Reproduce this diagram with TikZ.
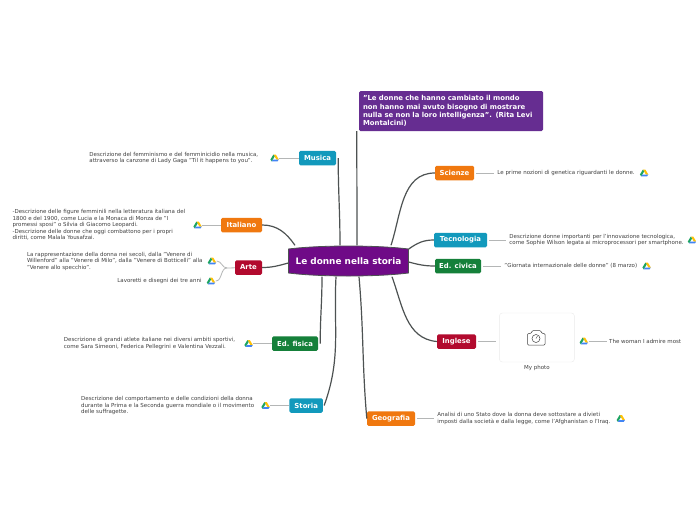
\documentclass[tikz,border=0pt]{standalone}
\usepackage{fontspec}
\setmainfont{DejaVu Sans}
\usetikzlibrary{positioning}
\definecolor{rootpurple}{HTML}{6F0A87}
\definecolor{quotepurple}{HTML}{662D91}
\definecolor{mapteal}{HTML}{1299BC}
\definecolor{maporange}{HTML}{F0780F}
\definecolor{mapgreen}{HTML}{15803A}
\definecolor{mapred}{HTML}{B20A2E}
\definecolor{trunk}{HTML}{4D5252}
\definecolor{twig}{HTML}{B4B6B6}
\definecolor{leaftext}{HTML}{404040}
\definecolor{driveyellow}{HTML}{FFC107}
\definecolor{drivegreen}{HTML}{1DA462}
\definecolor{driveblue}{HTML}{4285F4}

\begin{document}
\begin{tikzpicture}[x=1pt, y=-1pt,
  box/.style={rounded corners=1.5pt, inner sep=0pt, minimum height=14.5pt, text=white, fill=#1, font=\fontsize{6.9}{8}\selectfont\bfseries},
  leaf/.style={align=left, inner sep=0pt, text=leaftext, font=\fontsize{5.5}{6.5}\selectfont},
  arr/.style={trunk, line width=1.2pt},
  thin arr/.style={twig, line width=.8pt},
  driveicon/.style={minimum size=9pt, inner sep=0pt, path picture={
    \fill[driveyellow] (-1.2,-3.5) -- (1.2,-3.5) -- (4.2,1.5) -- (1.8,1.5) -- cycle;
    \fill[drivegreen] (-1.2,-3.5) -- (0,-1.4) -- (-2.9,3.4) -- (-4.2,1.5) -- cycle;
    \fill[driveblue] (-1.8,1.5) -- (4.2,1.5) -- (2.9,3.4) -- (-2.9,3.4) -- cycle;}}]
\useasboundingbox (0,0) rectangle (696,520);
\fill[white] (0,0) rectangle (696,520);
% central topic
\filldraw[fill=rootpurple, draw=trunk, line width=.8pt] (288.5,249) .. controls (320,245) and (377,245) .. (408.5,249) -- (408.5,273) .. controls (377,277) and (320,277) .. (288.5,273) -- cycle;
\node[inner sep=0pt, minimum width=120pt, minimum height=31pt, text=white, font=\fontsize{8.9}{9}\selectfont\bfseries] (root) at (348.5,261) {Le donne nella storia};
% main branches
\node[box=mapteal, minimum width=37pt] (musica) at (317.5,158) {Musica};
\node[box=maporange, minimum width=41pt] (italiano) at (241.5,225) {Italiano};
\node[box=mapred, minimum width=27pt] (arte) at (248.5,267.5) {Arte};
\node[box=mapgreen, minimum width=46pt] (fisica) at (295,343.5) {Ed. fisica};
\node[box=mapteal, minimum width=33.5pt] (storia) at (306.2,405.5) {Storia};
\node[box=maporange, minimum width=48pt] (geografia) at (391,418.5) {Geografia};
\node[box=mapred, minimum width=39pt] (inglese) at (456.5,341.5) {Inglese};
\node[box=mapgreen, minimum width=46pt] (civica) at (458,266) {Ed. civica};
\node[box=mapteal, minimum width=53pt] (tecnologia) at (460.5,240) {Tecnologia};
\node[box=maporange, minimum width=39pt] (scienze) at (454.5,173) {Scienze};
\node[box=quotepurple, minimum width=184pt, minimum height=40pt, text width=176pt, align=left, font=\fontsize{6.9}{8.3}\selectfont\bfseries] (quote) at (451,111) {"Le donne che hanno cambiato il mondo\\non hanno mai avuto bisogno di mostrare\\nulla se non la loro intelligenza". (Rita Levi\\Montalcini)};
% left leaves
\node[driveicon, left=19.5pt of musica] (driveMusica) {};
\node[leaf, left=11.5pt of driveMusica] (txtMusica) {Descrizione del femminismo e del femminicidio nella musica,\\attraverso la canzone di Lady Gaga "Til it happens to you".};
\node[driveicon, left=18.5pt of italiano] (driveItaliano) {};
\node[leaf, left=7.5pt of driveItaliano] (txtItaliano) {-Descrizione delle figure femminili nella letteratura italiana del\\1800 e del 1900, come Lucia e la Monaca di Monza de "I\\promessi sposi" o Silvia di Giacomo Leopardi.\\-Descrizione delle donne che oggi combattono per i propri\\diritti, come Malala Yousafzai.};
\node[driveicon] (driveArteA) at (212,261) {};
\node[leaf, left=4.5pt of driveArteA] (txtArteA) {La rappresentazione della donna nei secoli, dalla "Venere di\\Willenford" alla "Venere di Milo", dalla "Venere di Botticelli" alla\\"Venere allo specchio".};
\node[driveicon] (driveArteB) at (211,281) {};
\node[leaf, left=4.5pt of driveArteB] (txtArteB) {Lavoretti e disegni dei tre anni};
\coordinate (arteFork) at (227,268);
\node[driveicon, left=18.5pt of fisica] (driveFisica) {};
\node[leaf, left=8.5pt of driveFisica] (txtFisica) {Descrizione di grandi atlete italiane nei diversi ambiti sportivi,\\come Sara Simeoni, Federica Pellegrini e Valentina Vezzali.};
\node[driveicon, left=19pt of storia] (driveStoria) {};
\node[leaf, left=6.5pt of driveStoria] (txtStoria) {Descrizione del comportamento e delle condizioni della donna\\durante la Prima e la Seconda guerra mondiale o il movimento\\delle suffragette.};
% right leaves
\node[leaf, right=23pt of scienze] (txtScienze) {Le prime nozioni di genetica riguardanti le donne.};
\node[driveicon, right=4.5pt of txtScienze] (driveScienze) {};
\node[leaf, right=22pt of tecnologia] (txtTecnologia) {Descrizione donne importanti per l'innovazione tecnologica,\\come Sophie Wilson legata ai microprocessori per smartphone.};
\node[driveicon, right=3.5pt of txtTecnologia] (driveTecnologia) {};
\node[leaf, right=23pt of civica] (txtCivica) {"Giornata internazionale delle donne" (8 marzo)};
\node[driveicon, right=4.5pt of txtCivica] (driveCivica) {};
\node[leaf, right=22pt of geografia] (txtGeografia) {Analisi di uno Stato dove la donna deve sottostare a divieti\\imposti dalla società e dalla legge, come l'Afghanistan o l'Iraq.};
\node[driveicon, right=5.5pt of txtGeografia] (driveGeografia) {};
\node[draw=black!8, fill=white, rounded corners=3pt, minimum width=75pt, minimum height=49pt, inner sep=0pt, right=23pt of inglese, yshift=4pt] (photo) {};
\node[leaf, below=2.5pt of photo] (txtPhoto) {My photo};
\node[driveicon, right=4.5pt of photo, yshift=-3.5pt] (driveInglese) {};
\node[leaf, right=20.5pt of driveInglese] (txtInglese) {The woman I admire most};
% camera glyph
\draw[leaftext, line width=.5pt, rounded corners=1pt] (527.5,345) -- (527.5,333.5) -- (531,333.5) -- (532.5,330.5) -- (540.5,330.5) -- (542,333.5) -- (545,333.5) -- (545,345) -- cycle;
\draw[leaftext, line width=.5pt] (536,338.5) circle (4);
\draw[leaftext, line width=.4pt] (536,338.5) -- (537.5,336);
% connectors from the centre
\draw[arr] ([xshift=-8.5pt]root.north) to[out=90, in=-90] ([xshift=2pt]musica.east);
\draw[arr] ([xshift=8.5pt]root.north) to[out=90, in=-90] ([xshift=-2pt]quote.south west);
\draw[arr] ([xshift=-53.5pt]root.north) to[out=125, in=0] (italiano.east);
\draw[arr] ([yshift=-2pt]root.west) to[out=195, in=0] (arte.east);
\draw[arr] ([xshift=-26.5pt]root.south) to[out=-90, in=90] ([xshift=2pt]fisica.east);
\draw[arr] ([xshift=-12.5pt]root.south) to[out=-93, in=70] ([xshift=1pt]storia.east);
\draw[arr] ([xshift=10.5pt]root.south) to[out=-85, in=95] (geografia.west);
\draw[arr] ([xshift=43.5pt]root.south) to[out=-70, in=175] (inglese.west);
\draw[arr] ([yshift=-1pt]root.east) to[out=-15, in=180] (civica.west);
\draw[arr] ([yshift=12pt]root.east) to[out=35, in=180] (tecnologia.west);
\draw[arr] ([xshift=42.5pt]root.north) to[out=72, in=180] (scienze.west);
% connectors to the leaves
\draw[thin arr] (musica) -- (driveMusica);
\draw[thin arr] (italiano) -- (driveItaliano);
\draw[thin arr] (arte) -- (arteFork);
\draw[thin arr] (arteFork) to[out=180, in=0] (driveArteA);
\draw[thin arr] (arteFork) to[out=180, in=0] (driveArteB);
\draw[thin arr] (fisica) -- (driveFisica);
\draw[thin arr] (storia) -- (driveStoria);
\draw[thin arr, shorten <=2pt, shorten >=3pt] (scienze) -- (txtScienze);
\draw[thin arr, shorten <=2pt, shorten >=3pt] (tecnologia) -- (txtTecnologia);
\draw[thin arr, shorten <=2pt, shorten >=3pt] (civica) -- (txtCivica);
\draw[thin arr, shorten <=2pt, shorten >=3pt] (geografia) -- (txtGeografia);
\draw[thin arr, shorten <=2pt, shorten >=3pt] (inglese) -- (inglese -| photo.west);
\draw[thin arr, shorten >=2pt] (driveInglese) -- (txtInglese);
\end{tikzpicture}
\end{document}
